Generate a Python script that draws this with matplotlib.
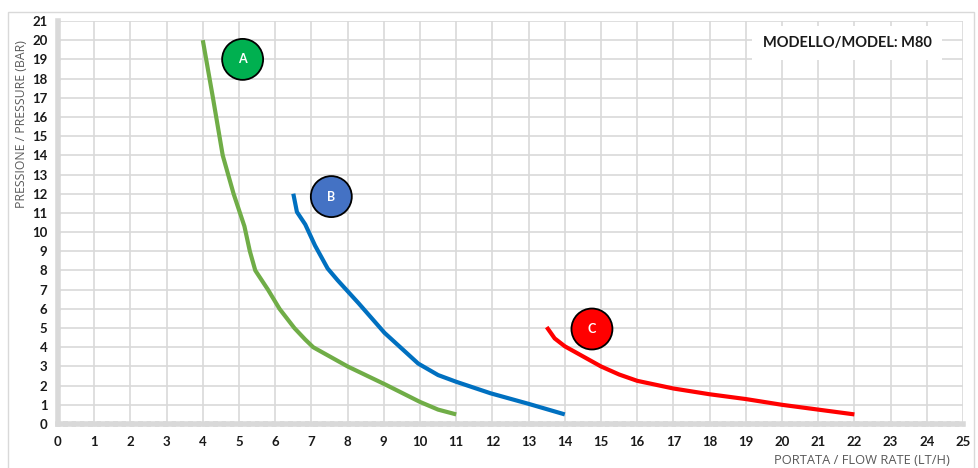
import matplotlib
matplotlib.use("Agg")
import matplotlib.pyplot as plt
from matplotlib.patches import Rectangle

# --- data ---
a_flow = [4.0, 4.28, 4.55, 4.85, 5.15, 5.3, 5.45, 5.8, 6.12, 6.53, 6.83, 7.05, 8.0, 9.05, 10.0, 10.5, 11.0]
a_pres = [20.0, 17.0, 14.0, 12.0, 10.3, 9.0, 8.0, 7.0, 6.0, 5.0, 4.4, 4.0, 3.0, 2.05, 1.15, 0.75, 0.5]

b_flow = [6.5, 6.6, 6.83, 7.1, 7.45, 7.72, 8.3, 9.02, 9.95, 10.5, 11.0, 11.95, 13.0, 14.0]
b_pres = [12.0, 11.05, 10.4, 9.3, 8.1, 7.5, 6.3, 4.75, 3.15, 2.55, 2.2, 1.6, 1.05, 0.5]

c_flow = [13.5, 13.72, 14.0, 15.0, 15.5, 16.0, 17.0, 18.0, 19.0, 20.0, 21.0, 22.0]
c_pres = [5.05, 4.46, 4.05, 3.0, 2.58, 2.25, 1.85, 1.55, 1.3, 1.0, 0.75, 0.5]

curve_names = ["A", "B", "C"]
label_x = [5.1, 7.55, 14.75]
label_y = [19.0, 11.85, 4.95]

x_ticks = list(range(0, 26))
y_ticks = list(range(0, 22))

GREEN = '#70AD47'
BLUE = '#0070C0'
RED = '#FF0000'
BADGE = ['#00B050', '#4472C4', '#FF0000']
GRID = '#D9D9D9'
TXT = '#1a1a1a'

plt.rcParams['font.family'] = ['Lato', 'DejaVu Sans']

fig = plt.figure(figsize=(9.79, 4.68), dpi=100)
ax = fig.add_axes([58 / 979, 44 / 468, 905 / 979, 403 / 468])

# outer chart border
fig.patches.append(Rectangle((8 / 979, -0.01), 0.995 - 8 / 979, 1 - 12 / 468 + 0.01,
                             transform=fig.transFigure, fill=False,
                             edgecolor='#D9D9D9', linewidth=1))

ax.set_xlim(0, 25)
ax.set_ylim(0, 21)
ax.set_xticks(x_ticks)
ax.set_yticks(y_ticks)
ax.grid(True, color=GRID, linewidth=1.2)
ax.set_axisbelow(True)

for s in ['top', 'right']:
    ax.spines[s].set_visible(False)
ax.spines['left'].set_color(GRID)
ax.spines['left'].set_linewidth(4)
ax.spines['bottom'].set_color(GRID)
ax.spines['bottom'].set_linewidth(4)
ax.spines['bottom'].set_linestyle((0, (1.2, 0.3)))

ax.tick_params(axis='both', colors=GRID, length=3, width=2, direction='inout')
ax.tick_params(axis='x', labelcolor=TXT, labelsize=9.5, pad=7)
ax.tick_params(axis='y', labelcolor=TXT, labelsize=9.5, pad=6)
for lab in ax.get_xticklabels() + ax.get_yticklabels():
    lab.set_fontweight('bold')

# curves
ax.plot(a_flow, a_pres, color=GREEN, linewidth=3, solid_capstyle='butt', solid_joinstyle='round')
ax.plot(b_flow, b_pres, color=BLUE, linewidth=3, solid_capstyle='butt', solid_joinstyle='round')
ax.plot(c_flow, c_pres, color=RED, linewidth=3, solid_capstyle='butt', solid_joinstyle='round')

# badges
ax.scatter(label_x, label_y, s=870, c=BADGE, edgecolors='black', linewidths=1.3, zorder=5)
for name, x, y in zip(curve_names, label_x, label_y):
    ax.text(x, y, name, color='white', fontsize=9, fontweight='bold',
            ha='center', va='center', zorder=6)

# model box
fig.text(847 / 979, 1 - 43 / 468, "MODELLO/MODEL: M80", fontsize=10.5, fontweight='bold',
         color=TXT, ha='center', va='center',
         bbox=dict(boxstyle='square,pad=0.7', facecolor='white', edgecolor='none'))

fig.text(22 / 979, 1 - 124 / 468, "PRESSIONE / PRESSURE (BAR)", rotation=90, fontsize=8.8,
         color='#595959', ha='center', va='center', family=['Open Sans', 'DejaVu Sans'])
fig.text(950 / 979, 1 - 461 / 468, "PORTATA / FLOW RATE (LT/H)", fontsize=9.3,
         color='#595959', ha='right', va='center', family=['Open Sans', 'DejaVu Sans'])

fig.savefig('out.png', dpi=100)
